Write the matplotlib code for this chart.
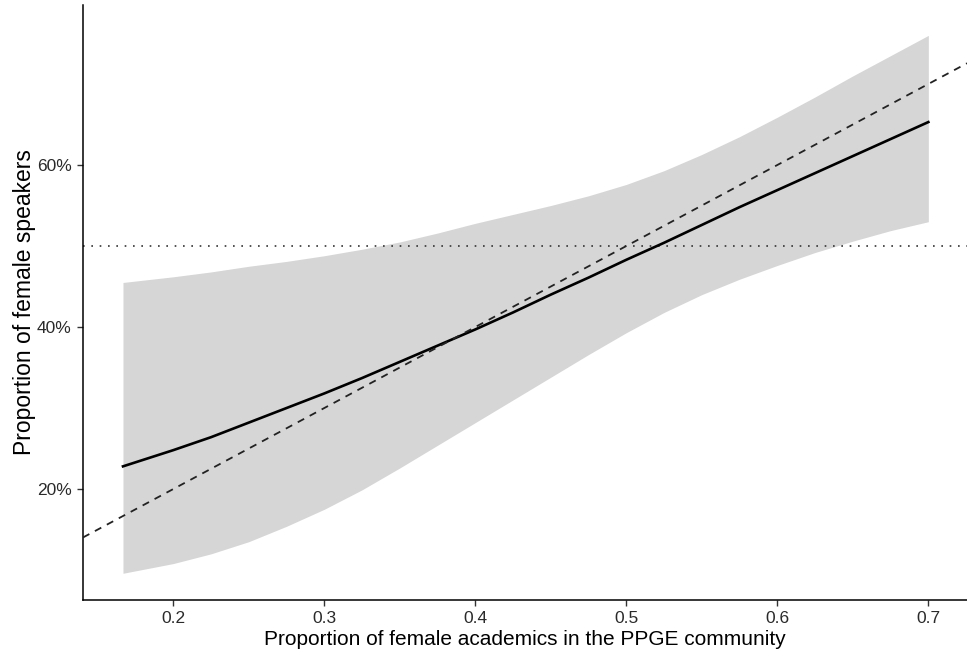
import numpy as np
import matplotlib.pyplot as plt
from matplotlib.ticker import PercentFormatter

plt.rcParams['font.family'] = ['Liberation Sans', 'DejaVu Sans']

# Share of female academics (x) and fitted share of female speakers with its band
share_academics = [0.1667, 0.200, 0.225, 0.250, 0.275, 0.300, 0.325, 0.350, 0.375, 0.400, 0.425,
                   0.450, 0.475, 0.500, 0.525, 0.550, 0.575, 0.600, 0.625, 0.650, 0.675, 0.700]
fit = [0.228, 0.248, 0.264, 0.282, 0.300, 0.318, 0.337, 0.357, 0.377, 0.397, 0.418,
       0.440, 0.461, 0.483, 0.504, 0.526, 0.548, 0.569, 0.590, 0.611, 0.632, 0.653]
ci_low = [0.096, 0.108, 0.120, 0.135, 0.154, 0.175, 0.199, 0.226, 0.254, 0.282, 0.310,
          0.338, 0.366, 0.393, 0.418, 0.440, 0.459, 0.476, 0.492, 0.506, 0.519, 0.530]
ci_high = [0.455, 0.462, 0.468, 0.475, 0.481, 0.488, 0.496, 0.505, 0.516, 0.528, 0.539,
           0.550, 0.562, 0.576, 0.593, 0.613, 0.635, 0.659, 0.684, 0.710, 0.735, 0.760]

parity = 0.5
x_ticks = [0.2, 0.3, 0.4, 0.5, 0.6, 0.7]
y_ticks = [0.2, 0.4, 0.6]

fig = plt.figure(figsize=(9.67, 6.59), dpi=100)
ax = fig.add_axes([0.0858, 0.0895, 0.9142, 0.9029])

ax.fill_between(share_academics, ci_low, ci_high, color='#d6d6d6', linewidth=0, zorder=1)
ax.plot(share_academics, fit, color='black', linewidth=1.9, zorder=3)

# identity line (speakers in proportion to academics) and the 50% mark
ax.axline((0, 0), slope=1, color='#222222', linewidth=1.3,
          linestyle=(0, (4, 3.5)), zorder=4)
ax.axhline(parity, color='#333333', linewidth=1.2,
           linestyle=(0, (1, 4)), zorder=2)

ax.set_xlim(0.1402, 0.7256)
ax.set_ylim(0.063, 0.7975)
ax.set_xticks(x_ticks)
ax.set_xticklabels([f'{t:.1f}' for t in x_ticks])
ax.set_yticks(y_ticks)
ax.yaxis.set_major_formatter(PercentFormatter(1.0, decimals=0))

for side in ['top', 'right']:
    ax.spines[side].set_visible(False)
for side in ['left', 'bottom']:
    ax.spines[side].set_linewidth(1.1)
    ax.spines[side].set_color('black')

ax.tick_params(axis='both', length=4, width=1.0, color='#333333',
               labelsize=12.5, labelcolor='#2a2a2a', pad=4)

ax.set_xlabel('Proportion of female academics in the PPGE community', fontsize=15, labelpad=3)
ax.set_ylabel('Proportion of female speakers', fontsize=16.5, labelpad=1)

fig.savefig('out.png', dpi=100, facecolor='white')
